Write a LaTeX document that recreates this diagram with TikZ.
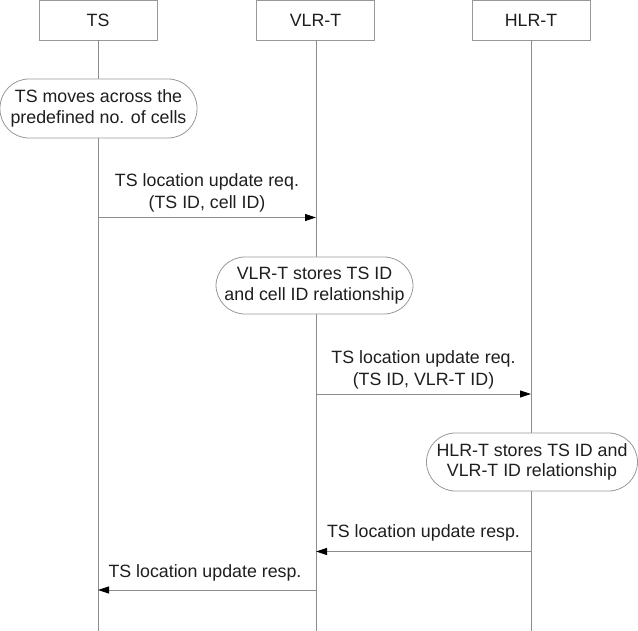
\documentclass[tikz,border=0pt]{standalone}
\usepackage{fontspec}
\setmainfont{Liberation Sans}
\usetikzlibrary{arrows.meta}
\definecolor{linegray}{HTML}{8C8C8C}
\definecolor{boxgray}{HTML}{999999}
\definecolor{txt}{HTML}{1E1E1E}
\begin{document}
\begin{tikzpicture}[x=1pt,y=-1pt,
  every node/.style={text=txt,font=\fontsize{17.8}{20.5}\selectfont},
  header/.style={draw=boxgray,line width=0.8pt,fill=white,minimum width=118pt,minimum height=40pt,inner sep=0pt},
  lifeline/.style={draw=linegray,line width=0.8pt},
  action/.style={draw=boxgray,line width=0.8pt,fill=white,rounded corners=29pt,align=center,inner sep=0pt},
  msg/.style={draw=linegray,line width=0.8pt,-{Triangle[length=11pt,width=7pt,color=black]}},
  lbl/.style={align=center,inner sep=0pt,font=\fontsize{17.8}{21.5}\selectfont}]
\useasboundingbox (0,0) rectangle (638,631);
% headers
\node[header] (ts) at (98,20) {TS};
\node[header] (vlr) at (315.5,20) {VLR-T};
\node[header] (hlr) at (531,20) {HLR-T};
% lifeline ends
\coordinate (tsend) at (98,631);
\coordinate (vlrend) at (316,631);
\coordinate (hlrend) at (531,631);
\draw[lifeline] (ts.south) -- (tsend);
\draw[lifeline] (vlr.south -| vlrend) -- (vlrend);
\draw[lifeline] (hlr.south) -- (hlrend);
% actions
\node[action,minimum width=197pt,minimum height=59pt] (a1) at (98.5,108.5) {TS moves across the\\predefined no. of cells};
\node[action,minimum width=197pt,minimum height=57pt] (a2) at (314.5,285.5) {VLR-T stores TS ID\\and cell ID relationship};
\node[action,minimum width=211pt,minimum height=58pt] (a3) at (532,462) {HLR-T stores TS ID and\\VLR-T ID relationship};
% message points
\coordinate (m1s) at (98,217.5);
\coordinate (m1e) at (316,217.5);
\coordinate (m2s) at (316,394);
\coordinate (m2e) at (531,394);
\coordinate (m3s) at (531,551.5);
\coordinate (m3e) at (316,551.5);
\coordinate (m4s) at (316,590);
\coordinate (m4e) at (98,590);
\draw[msg] (m1s) -- (m1e);
\draw[msg] (m2s) -- (m2e);
\draw[msg] (m3s) -- (m3e);
\draw[msg] (m4s) -- (m4e);
% labels
\node[lbl] (l1) at (207,193) {TS location update req.\\(TS ID, cell ID)};
\node[lbl] (l2) at (423.5,370) {TS location update req.\\(TS ID, VLR-T ID)};
\node[lbl] (l3) at (423.5,533) {TS location update resp.};
\node[lbl] (l4) at (205,573) {TS location update resp.};
\end{tikzpicture}
\end{document}
